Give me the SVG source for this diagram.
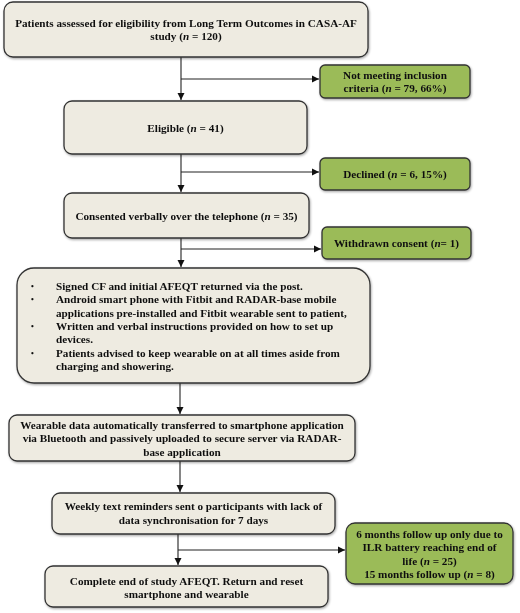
<svg xmlns="http://www.w3.org/2000/svg" width="520" height="613" viewBox="0 0 520 613">
<style>
.b{fill:#eeebe1;stroke:#333;stroke-width:1.3}
.g{fill:#9bbb59;stroke:#333;stroke-width:1.3}
text{font-family:"Liberation Serif","Times New Roman",serif;font-weight:bold;font-size:11.2px;fill:#111}
.c{text-anchor:middle}
.d{font-size:8px}
.l{fill:none;stroke:#222;stroke-width:1.1}
</style>
<defs>
<marker id="a" markerWidth="8" markerHeight="8" refX="7" refY="4" orient="auto" markerUnits="userSpaceOnUse">
<path d="M0,0.5 L7,4 L0,7.5 Z" fill="#111"/>
</marker>
<filter id="s" x="-5%" y="-5%" width="112%" height="120%">
<feDropShadow dx="0.8" dy="1.2" stdDeviation="0.8" flood-color="#000" flood-opacity="0.35"/>
</filter>
</defs>
<g id="connectors">
<path class="l" d="M181,57 V100" marker-end="url(#a)"/>
<path class="l" d="M181,79 H319" marker-end="url(#a)"/>
<path class="l" d="M181,154 V192" marker-end="url(#a)"/>
<path class="l" d="M181,172 H319" marker-end="url(#a)"/>
<path class="l" d="M181,238 V267" marker-end="url(#a)"/>
<path class="l" d="M181,249 H321" marker-end="url(#a)"/>
<path class="l" d="M180,383 V414" marker-end="url(#a)"/>
<path class="l" d="M180,461 V492" marker-end="url(#a)"/>
<path class="l" d="M178,534 V565" marker-end="url(#a)"/>
<path class="l" d="M178,550 H345" marker-end="url(#a)"/>
</g>
<g id="n1" filter="url(#s)">
<rect class="b" x="4" y="2" width="364" height="55" rx="9"/>
<text class="c" x="186" y="27">Patients assessed for eligibility from Long Term Outcomes in CASA-AF</text>
<text class="c" x="186" y="39.5">study (<tspan font-style="italic">n</tspan> = 120)</text>
</g>
<g id="n2" filter="url(#s)">
<rect class="g" x="320" y="65" width="150" height="33" rx="5"/>
<text class="c" x="395" y="79">Not meeting inclusion</text>
<text class="c" x="395" y="92">criteria (<tspan font-style="italic">n</tspan> = 79, 66%)</text>
</g>
<g id="n3" filter="url(#s)">
<rect class="b" x="64" y="101" width="243" height="53" rx="8"/>
<text class="c" x="185.5" y="132">Eligible (<tspan font-style="italic">n</tspan> = 41)</text>
</g>
<g id="n4" filter="url(#s)">
<rect class="g" x="320" y="158" width="150" height="32" rx="5"/>
<text class="c" x="395" y="178">Declined (<tspan font-style="italic">n</tspan> = 6, 15%)</text>
</g>
<g id="n5" filter="url(#s)">
<rect class="b" x="64" y="193" width="245" height="45" rx="8"/>
<text class="c" x="186.5" y="219.5">Consented verbally over the telephone (<tspan font-style="italic">n</tspan> = 35)</text>
</g>
<g id="n6" filter="url(#s)">
<rect class="g" x="322" y="227" width="149" height="32" rx="5"/>
<text class="c" x="396.5" y="247">Withdrawn consent (<tspan font-style="italic">n</tspan>= 1)</text>
</g>
<g id="n7" filter="url(#s)">
<rect class="b" x="17" y="268" width="353" height="115" rx="17"/>
<text class="d" x="31" y="289">•</text><text x="56" y="290">Signed CF and initial AFEQT returned via the post.</text>
<text class="d" x="31" y="302">•</text><text x="56" y="303">Android smart phone with Fitbit and RADAR-base mobile</text>
<text x="56" y="316.5">applications pre-installed and Fitbit wearable sent to patient,</text>
<text class="d" x="31" y="329">•</text><text x="56" y="330">Written and verbal instructions provided on how to set up</text>
<text x="56" y="343">devices.</text>
<text class="d" x="31" y="355.5">•</text><text x="56" y="356.5">Patients advised to keep wearable on at all times aside from</text>
<text x="56" y="370">charging and showering.</text>
</g>
<g id="n8" filter="url(#s)">
<rect class="b" x="9" y="415" width="346" height="46" rx="8"/>
<text class="c" x="182" y="428.5">Wearable data automatically transferred to smartphone application</text>
<text class="c" x="182" y="442">via Bluetooth and passively uploaded to secure server via RADAR-</text>
<text class="c" x="182" y="455.5">base application</text>
</g>
<g id="n9" filter="url(#s)">
<rect class="b" x="52" y="493" width="283" height="41" rx="8"/>
<text class="c" x="193.5" y="510">Weekly text reminders sent o participants with lack of</text>
<text class="c" x="193.5" y="524">data synchronisation for 7 days</text>
</g>
<g id="n10" filter="url(#s)">
<rect class="g" x="346" y="523" width="167" height="61" rx="9"/>
<text class="c" x="429.5" y="537.5">6 months follow up only due to</text>
<text class="c" x="429.5" y="551">ILR battery reaching end of</text>
<text class="c" x="429.5" y="564.5">life (<tspan font-style="italic">n</tspan> = 25)</text>
<text class="c" x="429.5" y="578">15 months follow up (<tspan font-style="italic">n</tspan> = 8)</text>
</g>
<g id="n11" filter="url(#s)">
<rect class="b" x="45" y="566" width="283" height="41" rx="8"/>
<text class="c" x="186.5" y="584.5">Complete end of study AFEQT. Return and reset</text>
<text class="c" x="186.5" y="598">smartphone and wearable</text>
</g>
</svg>
